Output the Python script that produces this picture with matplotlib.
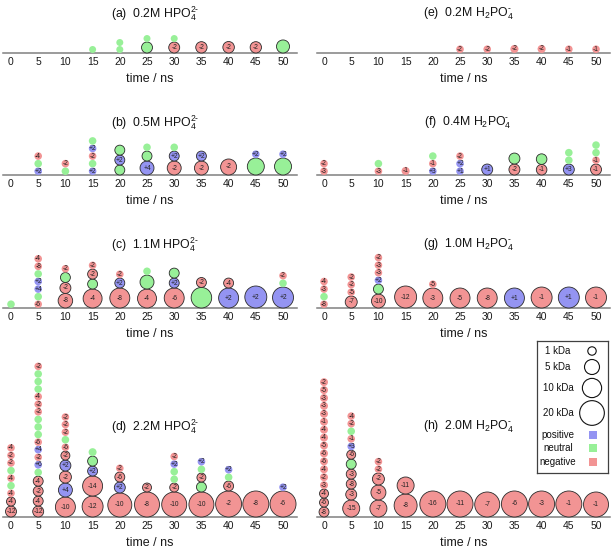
import matplotlib
matplotlib.use('Agg')
import matplotlib.pyplot as plt
from matplotlib.patches import Ellipse, Rectangle

plt.rcParams['font.family'] = ['Liberation Sans', 'DejaVu Sans']
plt.rcParams['mathtext.fontset'] = 'custom'
plt.rcParams['mathtext.rm'] = 'Liberation Sans'
plt.rcParams['mathtext.it'] = 'Liberation Sans:italic'
plt.rcParams['mathtext.bf'] = 'Liberation Sans:bold'

# ---------------- data ----------------
TIMES = [0, 5, 10, 15, 20, 25, 30, 35, 40, 45, 50]
XTICKS = [0, 5, 10, 15, 20, 25, 30, 35, 40, 45, 50]

# cluster masses (kDa) stacked bottom-up at each time, and their net charges
A_MASS = [[], [], [], [0.6], [0.6, 0.6], [2.1, 0.6], [2.1, 0.6], [2.3], [2.4], [2.3], [3.4]]
A_CHARGE = [[], [], [], [0], [0, 0], [0, 0], [-2, 0], [-2], [-2], [-2], [0]]

B_MASS = [[], [0.75, 0.75, 0.75], [0.75, 0.75], [0.75, 0.75, 0.75, 0.75, 0.75],
          [1.6, 1.6, 1.6], [4.1, 1.6, 0.75], [4.1, 1.6, 0.75], [4.1, 1.6], [6.0],
          [7.1, 0.75], [7.1, 0.75]]
B_CHARGE = [[], [2, 0, -4], [0, -2], [2, 0, -2, 2, 0], [0, 2, 0], [4, 0, 0],
            [-2, 2, 0], [-2, 2], [-2], [0, 2], [0, 2]]

C_MASS = [[0.75], [0.75, 0.75, 0.75, 0.75, 0.75, 0.75, 0.75], [4.6, 2.1, 1.6, 0.75],
          [9.6, 1.6, 1.6, 0.75], [11.1, 1.6, 0.75], [9.6, 4.1, 0.75], [11.1, 1.6, 1.6],
          [12.0, 1.6], [11.1, 1.6], [14.5], [12.7, 0.75, 0.75]]
C_CHARGE = [[0], [-6, 0, 4, 2, 0, -8, -4], [-8, -2, 0, -2], [-4, 0, -2, -2], [-8, 2, -2],
            [-4, 0, 0], [-6, 2, 0], [0, -2], [2, -4], [2], [2, 0, -2]]

D_MASS = [[2.1, 1.2, 0.75, 0.75, 0.75, 0.75, 0.75, 0.75, 0.75],
          [2.1, 1.6, 1.6, 1.6, 0.75, 0.75, 0.75, 0.75, 0.75, 0.75, 0.75, 0.75, 0.75,
           0.75, 0.75, 0.75, 0.75, 0.75, 0.75],
          [11.1, 4.1, 2.7, 2.1, 1.2, 0.75, 0.75, 0.75, 0.75, 0.75],
          [12.7, 11.1, 1.6, 1.6, 0.87], [18.5, 2.1, 1.6, 0.75], [20.7, 1.2],
          [20.7, 1.2, 0.75, 0.75, 0.75, 0.75], [20.7, 1.6, 1.2, 0.75, 0.75],
          [23.1, 1.6, 0.75, 0.75], [23.1], [23.1, 0.75]]
D_CHARGE = [[-12, -4, -4, 0, -4, 0, -2, -2, -4],
            [-12, -4, -2, -4, 0, 6, -2, 4, -6, 0, 0, 0, -2, -2, -4, 0, 0, 0, -2],
            [-10, 4, -2, 2, -2, -6, 0, -2, -2, -2],
            [-12, -14, 2, 0, 0], [-10, 2, -6, -2], [-8, -2],
            [-10, -2, 0, 0, 2, -2], [-10, 0, -2, 0, 2],
            [-2, -6, 0, 2], [-8], [-6, 2]]

E_MASS = [[], [], [], [], [], [0.75], [0.75], [0.9], [0.9], [0.75], [0.75]]
E_CHARGE = [[], [], [], [], [], [-2], [-2], [-2], [-2], [-1], [-1]]

F_MASS = [[0.75, 0.75], [], [0.75, 0.75], [0.9], [0.75, 0.75, 0.75], [0.75, 0.75, 0.75],
          [2.1], [2.1, 2.1], [1.9, 1.9], [2.1, 0.75, 0.75], [2.1, 0.75, 0.75, 0.75]]
F_CHARGE = [[-3, -2], [], [-3, 0], [-1], [3, -1, 0], [1, 2, -2], [1], [-2, 0], [-1, 0],
            [3, 0, 0], [-1, -1, 0, 0]]

G_MASS = [[0.75, 0.75, 0.75, 0.75], [2.7, 0.75, 0.75, 0.75],
          [4.1, 1.6, 0.75, 0.75, 0.75, 0.75], [14.5], [11.1, 0.75], [11.1], [11.1],
          [11.1], [12.7], [12.7], [12.7]]
G_CHARGE = [[-8, 0, -3, -4], [-7, -5, -2, -2], [-10, 0, 2, -3, -3, -2], [-12], [-3, -5],
            [-5], [-8], [1], [-1], [1], [-1]]

H_MASS = [[1.6, 1.2, 1.2, 0.85, 0.85, 0.85, 0.85, 0.85, 0.85, 0.85, 0.85, 0.85, 0.85,
           0.85, 0.85, 0.85, 0.85],
          [7.1, 2.1, 1.6, 1.6, 1.6, 1.2, 0.75, 0.75, 0.75, 0.75, 0.75],
          [7.1, 5.0, 2.7, 0.75, 0.75], [16.4, 7.1], [23.1], [23.1], [20.7], [23.1],
          [23.1], [23.1], [20.7]]
H_CHARGE = [[-8, -6, -4, -3, -2, -4, -6, -6, -5, -4, -4, -1, -3, -3, -3, -5, -2],
            [-15, -3, -8, -3, 0, -6, 3, -1, 0, -2, -4],
            [-7, -5, -2, -2, -2], [-8, -11], [-16], [-11], [-7], [-6], [-3], [-1], [-1]]

TITLES = {
    'a': r'(a)  0.2M HPO$_4^{2\text{-}}$', 'b': r'(b)  0.5M HPO$_4^{2\text{-}}$',
    'c': r'(c)  1.1M HPO$_4^{2\text{-}}$', 'd': r'(d)  2.2M HPO$_4^{2\text{-}}$',
    'e': r'(e)  0.2M H$_2$PO$_4^{\text{-}}$', 'f': r'(f)  0.4M H$_2$PO$_4^{\text{-}}$',
    'g': r'(g)  1.0M H$_2$PO$_4^{\text{-}}$', 'h': r'(h)  2.0M H$_2$PO$_4^{\text{-}}$',
}
LEGEND_MASSES = [1, 5, 10, 20]
LEGEND_CHARGE_NAMES = ['positive', 'neutral', 'negative']

# ---------------- style ----------------
POS = '#9494f2'
NEU = '#98f098'
NEG = '#f29494'
EDGE = '#2a2a2a'
W, H = 615, 551


def diam_px(m):
    return 8.4 * m ** 0.36


fig = plt.figure(figsize=(W / 100, H / 100), dpi=100)


def add_px_axes(x0, x1, ytop, ybot):
    return fig.add_axes([x0 / W, 1 - ybot / H, (x1 - x0) / W, (ybot - ytop) / H])


def draw_panel(key, masses, charges, col, base, title_off):
    if col == 0:
        x0, x1, xmin, xmax = 3, 297, -1.47, 52.57
    else:
        x0, x1, xmin, xmax = 317, 610, -1.29, 52.57
    height = title_off + 12
    ax = add_px_axes(x0, x1, base - height, base)
    ax.set_xlim(xmin, xmax)
    ax.set_ylim(0, height)
    ppn = (x1 - x0) / (xmax - xmin)
    ax.patch.set_alpha(0)
    for s in ['top', 'left', 'right']:
        ax.spines[s].set_visible(False)
    ax.spines['bottom'].set_color('#808080')
    ax.spines['bottom'].set_linewidth(1.1)
    ax.set_yticks([])
    ax.set_xticks(XTICKS)
    ax.tick_params(axis='x', length=0, pad=3, labelsize=7.5, colors='#1a1a1a')
    ax.set_xlabel('time / ns', fontsize=9, labelpad=4, color='#1a1a1a')
    for t, ms, cs in zip(TIMES, masses, charges):
        y = 0.0
        for m, c in zip(ms, cs):
            d = diam_px(m)
            fc = POS if c > 0 else (NEG if c < 0 else NEU)
            ec = EDGE if m >= 1.0 else 'none'
            ax.add_patch(Ellipse((t, y + d / 2), d / ppn, d, facecolor=fc,
                                 edgecolor=ec, linewidth=0.6, clip_on=False, zorder=3))
            if c != 0:
                lab = f'+{c}' if c > 0 else f'{c}'
                ax.text(t, y + d / 2, lab, fontsize=4.8, ha='center', va='center',
                        color='#222222', zorder=4, clip_on=False)
            y += d
    ax.text(26.5, title_off, TITLES[key], fontsize=8.8, ha='center', va='center',
            color='#111111')
    return ax


draw_panel('a', A_MASS, A_CHARGE, 0, 53, 39)
draw_panel('b', B_MASS, B_CHARGE, 0, 175, 52)
draw_panel('c', C_MASS, C_CHARGE, 0, 308, 63)
draw_panel('d', D_MASS, D_CHARGE, 0, 517, 90)
draw_panel('e', E_MASS, E_CHARGE, 1, 53, 39)
draw_panel('f', F_MASS, F_CHARGE, 1, 175, 52)
draw_panel('g', G_MASS, G_CHARGE, 1, 308, 63)
draw_panel('h', H_MASS, H_CHARGE, 1, 517, 90)

# ---------------- legend ----------------
lx0, lx1, ly0, ly1 = 537, 608, 341, 473
lax = add_px_axes(lx0, lx1, ly0, ly1)
lax.set_xlim(lx0, lx1)
lax.set_ylim(ly1, ly0)
lax.set_xticks([])
lax.set_yticks([])
for s in lax.spines.values():
    s.set_color('#404040')
    s.set_linewidth(0.9)
circle_y = [351, 367, 388, 413]
for m, yc in zip(LEGEND_MASSES, circle_y):
    d = diam_px(m)
    lax.add_patch(Ellipse((592, yc), d, d, facecolor='white', edgecolor='#111111',
                          linewidth=0.8))
    lax.text(558, yc, f'{m} kDa', fontsize=7, ha='center', va='center', color='#111111')
square_y = [435, 448, 462]
for name, colr, yc in zip(LEGEND_CHARGE_NAMES, [POS, NEU, NEG], square_y):
    lax.add_patch(Rectangle((589, yc - 4), 8, 8, facecolor=colr, edgecolor='none'))
    lax.text(558, yc, name, fontsize=7, ha='center', va='center', color='#111111')

fig.savefig('out.png', dpi=100)
